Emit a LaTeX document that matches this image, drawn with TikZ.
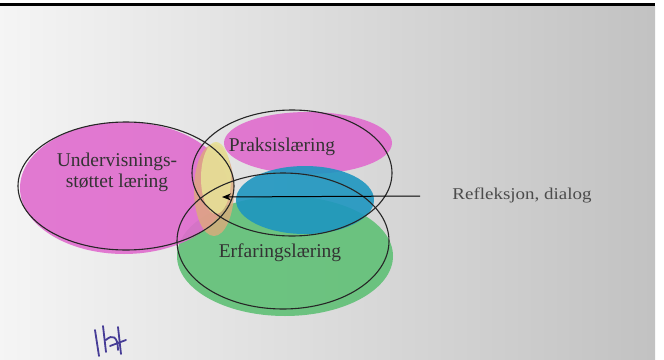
\documentclass[tikz,border=0pt]{standalone}
\usepackage{fontspec}
\setmainfont{Liberation Serif}
\usetikzlibrary{shapes.geometric,arrows.meta}
\definecolor{crayonpink}{RGB}{224,108,206}
\definecolor{crayonblue}{RGB}{30,150,192}
\definecolor{crayongreen}{RGB}{96,192,118}
\definecolor{crayonyellow}{RGB}{230,224,150}
\definecolor{crayonorange}{RGB}{222,170,124}
\definecolor{inkpurple}{RGB}{70,60,150}
\tikzset{
  ring/.style={ellipse, draw=black!85, line width=1.1pt, inner sep=0pt},
  label/.style={font=\fontsize{19.5}{21}\selectfont, text=black!80, inner sep=0pt, align=center},
  blob/.style={opacity=0.9},
}
\begin{document}
\begin{tikzpicture}[x=1pt,y=-1pt]
\useasboundingbox (0,0) rectangle (664,359);
\fill[white] (0,0) rectangle (664,359);
\shade[left color=gray!8, right color=gray!48] (0,6) rectangle (655,359);
\draw[line width=3pt] (0,4) -- (655,4);
% crayon fills
\fill[crayongreen,blob] (285,256) ellipse [x radius=108, y radius=60];
\fill[crayonpink,blob] (308,143) ellipse [x radius=84, y radius=31];
\fill[crayonblue,blob] (305,200) ellipse [x radius=69, y radius=34];
\fill[crayonpink,blob] (124,188) ellipse [x radius=104, y radius=66];
\fill[crayonorange,opacity=0.8] (214,190) ellipse [x radius=20, y radius=46];
\fill[crayonyellow,opacity=0.9] (216,178) ellipse [x radius=15, y radius=36];
% circles
\node[ring, minimum width=216pt, minimum height=128pt] (U) at (126,186) {};
\node[ring, minimum width=200pt, minimum height=126pt] (P) at (292,173) {};
\node[ring, minimum width=212pt, minimum height=136pt] (E) at (283,241) {};
% texts
\node[label] (Ut) at (117,172) {Undervisnings-\\støttet læring};
\node[label] (Pt) at (282,147) {Praksislæring};
\node[label] (Et) at (280,253) {Erfaringslæring};
\node[label, text=black!70, font=\fontsize{16.5}{18}\selectfont, xscale=1.15] (R) at (522,195) {Refleksjon, dialog};
\coordinate (Rs) at (420,196);
\coordinate (Rt) at (222,197);
\draw[line width=1pt, -{Stealth[length=9pt,width=7pt]}] (Rs) -- (Rt);
% handwritten initials
\draw[inkpurple, line width=1.8pt, line cap=round]
  (95,330) -- (99,356)
  (103,326) -- (106,352)
  (106,340) .. controls (112,334) and (118,336) .. (118,350)
  (118,327) -- (121,354)
  (110,346) -- (126,340);
\end{tikzpicture}
\end{document}
